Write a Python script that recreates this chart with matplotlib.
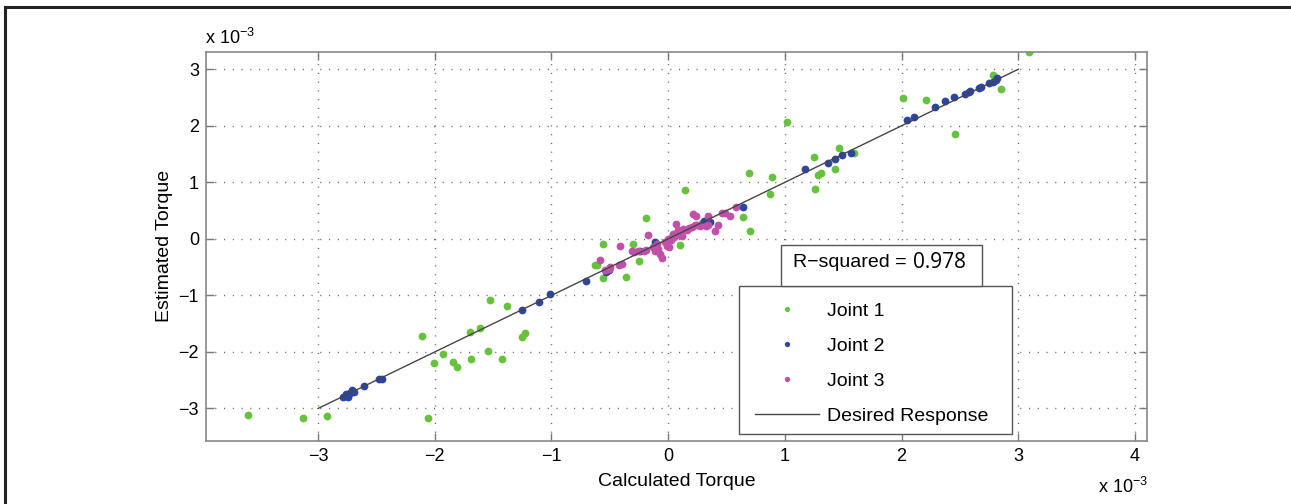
import matplotlib
matplotlib.use('Agg')
import matplotlib.pyplot as plt
from matplotlib.lines import Line2D
from matplotlib.patches import Rectangle

plt.rcParams['font.family'] = ['Liberation Sans', 'DejaVu Sans']
plt.rcParams['mathtext.default'] = 'regular'

# values in units of 1e-3
j1_x = [-3.60, -3.13, -2.92, -2.11, -2.06, -2.01, -1.93, -1.84, -1.81, -1.70, -1.69, -1.61,
        -1.54, -1.53, -1.42, -1.38, -1.25, -1.23,
        -0.63, -0.61, -0.56, -0.56, -0.36, -0.30, -0.25, -0.19, 0.10, 0.14, 0.29, 0.64, 0.70,
        0.69, 0.87, 0.89, 1.02, 1.25, 1.26, 1.28, 1.31, 1.43, 1.46, 1.59, 2.01, 2.21, 2.46,
        2.78, 2.85, 3.09]
j1_y = [-3.11, -3.16, -3.13, -1.71, -3.16, -2.20, -2.04, -2.18, -2.26, -1.65, -2.12, -1.58,
        -1.99, -1.09, -2.12, -1.19, -1.74, -1.66,
        -0.47, -0.46, -0.09, -0.69, -0.67, -0.09, -0.39, 0.36, -0.11, 0.87, 0.28, 0.38, 0.14,
        1.16, 0.80, 1.10, 2.07, 1.44, 0.88, 1.13, 1.16, 1.24, 1.60, 1.51, 2.50, 2.45, 1.85,
        2.89, 2.65, 3.30]

j2_x = [-2.79, -2.76, -2.74, -2.73, -2.71, -2.69, -2.61, -2.48, -2.45, -1.25, -1.11, -1.01,
        -0.70, -0.53, -0.51, -0.24, -0.11, 0.31, 0.36, 0.64, 1.17, 1.37, 1.43, 1.49, 1.57,
        2.05, 2.11, 2.29, 2.37, 2.45, 2.54, 2.58, 2.59, 2.66, 2.68, 2.75, 2.78, 2.81, 2.82]
j2_y = [-2.80, -2.75, -2.80, -2.73, -2.68, -2.71, -2.61, -2.47, -2.47, -1.25, -1.12, -0.98,
        -0.74, -0.59, -0.55, -0.22, -0.06, 0.31, 0.30, 0.57, 1.24, 1.35, 1.41, 1.48, 1.52,
        2.10, 2.15, 2.34, 2.43, 2.51, 2.56, 2.59, 2.62, 2.66, 2.68, 2.76, 2.78, 2.81, 2.85]

j3_x = [-0.58, -0.54, -0.51, -0.50, -0.42, -0.40, -0.41, -0.31, -0.29, -0.26, -0.21, -0.19,
        -0.17, -0.13, -0.10, -0.11, -0.09, -0.07, -0.05, -0.01, 0.01, 0.00, 0.03, 0.05, 0.04,
        0.07, 0.08, 0.09, 0.11, 0.13, 0.16, 0.18, 0.20, 0.23, 0.25, 0.27, 0.21, 0.24, 0.32,
        0.34, 0.40, 0.43, 0.46, 0.49, 0.53, 0.58, 0.34, 0.02, 0.06, 0.12, -0.03]
j3_y = [-0.38, -0.55, -0.53, -0.50, -0.47, -0.44, -0.12, -0.22, -0.24, -0.22, -0.21, -0.19,
        0.06, -0.15, -0.09, -0.21, -0.18, -0.27, -0.34, -0.12, -0.14, 0.00, 0.04, 0.03, 0.09,
        0.27, 0.16, 0.06, 0.12, 0.18, 0.15, 0.20, 0.21, 0.24, 0.25, 0.22, 0.44, 0.41, 0.22,
        0.24, 0.14, 0.25, 0.46, 0.46, 0.41, 0.57, 0.41, -0.02, 0.08, 0.05, -0.05]

ideal = [-3, 3]
r_squared = 0.978

c_green = '#66c23c'
c_blue = '#2d45a0'
c_mag = '#c050a8'

fig = plt.figure(figsize=(12.91, 5.04), dpi=100)
ax = fig.add_axes([0.1596, 0.1256, 0.7286, 0.7718])

ax.plot(j1_x, j1_y, 'o', color=c_green, ms=5.6, mec='none')
ax.plot(j2_x, j2_y, 'o', color=c_blue, ms=5.6, mec='none')
ax.plot(j3_x, j3_y, 'o', color=c_mag, ms=5.6, mec='none')
ax.plot(ideal, ideal, '-', color='#454545', lw=1.0)

ax.set_xlim(-3.96, 4.10)
ax.set_ylim(-3.57, 3.31)
ax.set_xticks(range(-3, 5))
ax.set_yticks(range(-3, 4))
ax.grid(True, color='#666666', linestyle=(0, (0.8, 5.5)), lw=1.0)
ax.tick_params(direction='in', top=True, right=True, length=6, width=1,
               color='#777777', labelsize=13, pad=5)
for s in ax.spines.values():
    s.set_color('#888888')
    s.set_linewidth(1.2)

ax.set_xlabel('Calculated Torque', fontsize=14, labelpad=6)
ax.set_ylabel('Estimated Torque', fontsize=14, labelpad=4)

fig.text(0.159, 0.925, 'x 10$^{-3}$', fontsize=13, va='center', ha='left')
fig.text(0.889, 0.034, 'x 10$^{-3}$', fontsize=13, va='center', ha='right')

handles = [Line2D([], [], ls='none', marker='o', ms=3.8, color=c_green, mec='none'),
           Line2D([], [], ls='none', marker='o', ms=3.8, color=c_blue, mec='none'),
           Line2D([], [], ls='none', marker='o', ms=3.8, color=c_mag, mec='none'),
           Line2D([], [], color='#454545', lw=1.0)]
leg = ax.legend(handles, ['Joint 1', 'Joint 2', 'Joint 3', 'Desired Response'],
                loc='upper left', bbox_to_anchor=(0.5724, 0.4331),
                bbox_transform=fig.transFigure, borderaxespad=0, fontsize=14,
                handlelength=3.25, handletextpad=0.45, labelspacing=0.9, borderpad=0.85,
                frameon=False)
# legend frame drawn by hand (matlab pads it unevenly)
ax.add_patch(Rectangle((0.5724, 0.1383), 0.2117, 0.2948, transform=fig.transFigure,
                       facecolor='white', edgecolor='#555555', lw=1.0, zorder=4.9,
                       clip_on=False))

# R-squared box
fig.add_artist(Rectangle((0.6047, 0.4325), 0.1562, 0.0813, transform=fig.transFigure,
                         facecolor='white', edgecolor='#555555', lw=1.0, zorder=5))
fig.text(0.614, 0.4788, 'R\u2212squared =', fontsize=14, va='center', ha='left', zorder=6)
fig.text(0.707, 0.4788, '%.3f' % r_squared, fontsize=15, va='center', ha='left',
         family=['Open Sans', 'DejaVu Sans'], zorder=6)

# page frame
fig.add_artist(Line2D([0.004, 1.0], [0.986, 0.986], transform=fig.transFigure,
                      color='#222222', lw=2.2))
fig.add_artist(Line2D([0.004, 0.004], [0.0, 0.986], transform=fig.transFigure,
                      color='#222222', lw=2.2))

fig.savefig('out.png', dpi=100)
